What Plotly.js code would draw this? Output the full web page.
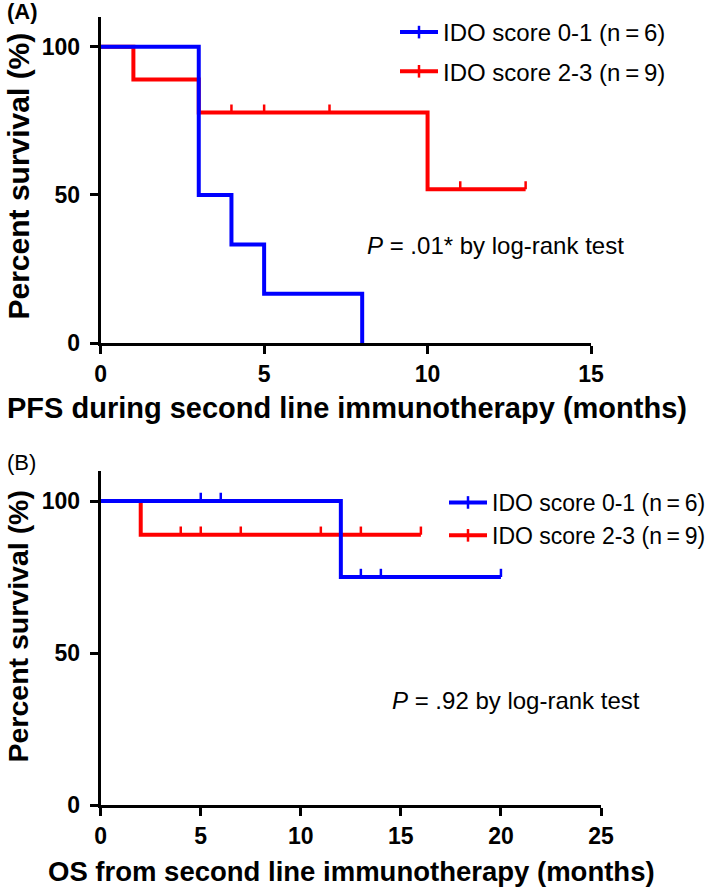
<!DOCTYPE html>
<html><head><meta charset="utf-8">
<script src="https://cdn.plot.ly/plotly-3.0.1.min.js"></script>
<style>html,body{margin:0;padding:0;background:#fff}#chart{width:709px;height:888px}</style>
</head><body><div id="chart"></div>
<script>
// ---- Panel A: PFS ----
const pfsLowTime = [0, 3, 4, 5, 8];
const pfsLowSurv = [100, 50, 33.3, 16.7, 0];
const pfsHighTime = [0, 1, 3, 10, 13];
const pfsHighSurv = [100, 88.9, 77.8, 51.9, 51.9];
const pfsHighCensTime = [4, 5, 7, 11, 13];
const pfsHighCensSurv = [77.8, 77.8, 77.8, 51.9, 51.9];
// ---- Panel B: OS ----
const osLowTime = [0, 12, 20];
const osLowSurv = [100, 75, 75];
const osLowCensTime = [5, 6, 13, 14, 20];
const osLowCensSurv = [100, 100, 75, 75, 75];
const osHighTime = [0, 2, 16];
const osHighSurv = [100, 88.9, 88.9];
const osHighCensTime = [4, 5, 7, 11, 13, 16];
const osHighCensSurv = [88.9, 88.9, 88.9, 88.9, 88.9, 88.9];

const seriesNames = ['IDO score 0-1 (n\u2009=\u20096)', 'IDO score 2-3 (n\u2009=\u20099)'];
const xTicksA = [0, 5, 10, 15];
const xTicksB = [0, 5, 10, 15, 20, 25];
const yTicks = [0, 50, 100];
const xTitleA = 'PFS during second line immunotherapy (months)';
const xTitleB = 'OS from second line immunotherapy (months)';
const yTitle = 'Percent survival (%)';
const pTextA = '<i>P</i> = .01* by log-rank test';
const pTextB = '<i>P</i> = .92 by log-rank test';

const BLUE = '#0000FF', RED = '#FF0000';
const FONT = 'Liberation Sans, Arial, sans-serif';
const CENS_H = 2.7;

function censor(t, s) {
  const x = [], y = [];
  t.forEach((v, i) => { x.push(v, v, null); y.push(s[i], s[i] + CENS_H, null); });
  return {x, y};
}
function stepTrace(x, y, color, xa, ya) {
  return {x, y, xaxis: xa, yaxis: ya, mode: 'lines', line: {shape: 'hv', color, width: 4},
    showlegend: false, cliponaxis: false, hoverinfo: 'skip'};
}
function censTrace(t, s, color, xa, ya) {
  const c = censor(t, s);
  return {x: c.x, y: c.y, xaxis: xa, yaxis: ya, mode: 'lines', line: {color, width: 2.5},
    showlegend: false, cliponaxis: false, hoverinfo: 'skip'};
}
function legTrace(name, color, leg, grp) {
  return {x: [null], y: [null], name, legend: leg, legendgroup: grp, mode: 'lines+markers',
    line: {color, width: 4}, marker: {symbol: 'line-ns-open', size: 9, color, line: {color, width: 2.5}},
    xaxis: leg === 'legend' ? 'x' : 'x2', yaxis: leg === 'legend' ? 'y' : 'y2'};
}

const data = [
  stepTrace(pfsHighTime, pfsHighSurv, RED, 'x', 'y'),
  censTrace(pfsHighCensTime, pfsHighCensSurv, RED, 'x', 'y'),
  stepTrace(pfsLowTime, pfsLowSurv, BLUE, 'x', 'y'),
  stepTrace(osHighTime, osHighSurv, RED, 'x2', 'y2'),
  censTrace(osHighCensTime, osHighCensSurv, RED, 'x2', 'y2'),
  stepTrace(osLowTime, osLowSurv, BLUE, 'x2', 'y2'),
  censTrace(osLowCensTime, osLowCensSurv, BLUE, 'x2', 'y2'),
  legTrace(seriesNames[0], BLUE, 'legend', 'a1'),
  legTrace(seriesNames[1], RED, 'legend', 'a2'),
  legTrace(seriesNames[0], BLUE, 'legend2', 'b1'),
  legTrace(seriesNames[1], RED, 'legend2', 'b2')
];

function xaxis(dom, ticks, anchor) {
  return {domain: dom, anchor, range: [ticks[0], ticks[ticks.length - 1]], tickvals: ticks,
    showline: true, linewidth: 3, linecolor: '#000', ticks: 'outside', ticklen: 8, tickwidth: 3,
    tickcolor: '#000', showgrid: false, zeroline: false, fixedrange: true, ticklabelstandoff: 0,
    automargin: false,
    tickfont: {family: FONT, size: 23, color: '#000', weight: 'bold'}};
}
function yaxis(dom, anchor) {
  return {domain: dom, anchor, range: [0, 110], tickvals: yTicks,
    showline: true, linewidth: 3, linecolor: '#000', ticks: 'outside', ticklen: 8, tickwidth: 3,
    tickcolor: '#000', showgrid: false, zeroline: false, fixedrange: true, ticklabelstandoff: 5,
    automargin: false,
    tickfont: {family: FONT, size: 23, color: '#000', weight: 'bold'}};
}

const W = 709, H = 888;
function ann(text, x, y, size, opts) {
  return Object.assign({text, xref: 'paper', yref: 'paper', x: x / W, y: 1 - y / H,
    xanchor: 'center', yanchor: 'middle', showarrow: false,
    font: {family: FONT, size, color: '#000'}}, opts || {});
}
const bold = s => ({family: FONT, size: s, color: '#000', weight: 'bold'});

const layout = {
  width: W, height: H, margin: {l: 0, r: 0, t: 0, b: 0, pad: 0, autoexpand: false},
  paper_bgcolor: '#fff', plot_bgcolor: '#fff', showlegend: true,
  font: {family: FONT, color: '#000'},
  xaxis: xaxis([100.7 / W, 591 / W], xTicksA, 'y'),
  yaxis: yaxis([1 - 343.3 / H, 1 - 17 / H], 'x'),
  xaxis2: xaxis([100.7 / W, 601 / W], xTicksB, 'y2'),
  yaxis2: yaxis([1 - 805 / H, 1 - 470.6 / H], 'x2'),
  legend: {x: 395 / W, y: 1 - 10 / H, xanchor: 'left', yanchor: 'top', bgcolor: 'rgba(0,0,0,0)',
    font: {family: FONT, size: 24, color: '#000'}, traceorder: 'grouped', tracegroupgap: 5, itemwidth: 38},
  legend2: {x: 444 / W, y: 1 - 481 / H, xanchor: 'left', yanchor: 'top', bgcolor: 'rgba(0,0,0,0)',
    font: {family: FONT, size: 23, color: '#000'}, traceorder: 'grouped', tracegroupgap: 0, itemwidth: 38},
  annotations: [
    ann('(A)', 5, 12, 22, {xanchor: 'left', font: bold(22)}),
    ann('(B)', 5, 463, 22, {xanchor: 'left'}),
    ann(pTextA, 495, 245, 24),
    ann(pTextB, 515.5, 700, 24),
    ann(xTitleA, 347, 408, 29, {font: bold(29)}),
    ann(xTitleB, 351, 871, 27.5, {font: bold(27.5)}),
    ann(yTitle, 18.5, 176, 30, {textangle: -90, font: bold(30)}),
    ann(yTitle, 17.5, 627, 28.5, {textangle: -90, font: bold(28.5)})
  ]
};

Plotly.newPlot('chart', data, layout, {staticPlot: true, displayModeBar: false});
</script></body></html>
